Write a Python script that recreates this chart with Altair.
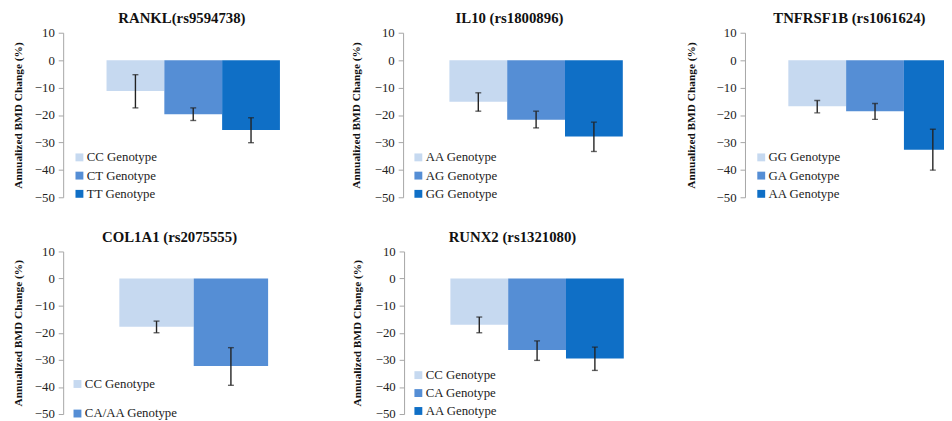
import altair as alt
import pandas as pd

COLORS = ["#C6D9F0", "#558ED5", "#0F6FC6"]

titles = ["RANKL(rs9594738)", "IL10 (rs1800896)", "TNFRSF1B (rs1061624)",
          "COL1A1 (rs2075555)", "RUNX2 (rs1321080)"]

rankl_geno = ["CC Genotype", "CT Genotype", "TT Genotype"]
rankl_mean = [-11.2, -19.7, -25.5]
rankl_hi = [-5.3, -17.4, -21.0]
rankl_lo = [-17.4, -22.0, -30.1]

il10_geno = ["AA Genotype", "AG Genotype", "GG Genotype"]
il10_mean = [-15.2, -21.7, -27.8]
il10_hi = [-11.9, -18.6, -22.6]
il10_lo = [-18.6, -24.7, -33.3]

tnf_geno = ["GG Genotype", "GA Genotype", "AA Genotype"]
tnf_mean = [-16.8, -18.6, -32.7]
tnf_hi = [-14.7, -15.8, -25.2]
tnf_lo = [-19.2, -21.6, -40.1]

col_geno = ["CC Genotype", "CA/AA Genotype"]
col_mean = [-17.8, -32.3]
col_hi = [-15.7, -25.5]
col_lo = [-20.0, -39.4]

runx_geno = ["CC Genotype", "CA Genotype", "AA Genotype"]
runx_mean = [-17.0, -26.4, -29.5]
runx_hi = [-14.2, -23.0, -25.3]
runx_lo = [-20.0, -30.2, -33.9]

y_ticks = [10, 0, -10, -20, -30, -40, -50]
y_title = "Annualized BMD Change (%)"

SERIF = "Liberation Serif"


def panel(title, cats, mean, hi, lo, width, height, xrange, title_dx,
          title_pad, leg_x, leg_y, leg_rowpad, clip=False):
    df = pd.DataFrame({"g": cats, "m": mean, "hi": hi, "lo": lo})
    base = alt.Chart(df)
    x = alt.X("g:N", sort=cats, axis=None,
              scale=alt.Scale(domain=cats, range=xrange,
                              paddingInner=0, paddingOuter=0))
    yscale = alt.Scale(domain=[-50, 10], nice=False, zero=False)
    yaxis = alt.Axis(values=y_ticks, grid=False, domainColor="#A6A6A6",
                     tickColor="#A6A6A6", tickSize=5, labelPadding=4,
                     labelFont=SERIF, labelFontSize=13, labelColor="#222222",
                     title=y_title, titleFont=SERIF, titleFontSize=11.5,
                     titleFontWeight="bold", titleColor="#111111",
                     titlePadding=title_pad)
    bars = base.mark_bar(clip=clip).encode(
        x=x,
        y=alt.Y("m:Q", scale=yscale, axis=yaxis),
        y2=alt.datum(0),
        color=alt.Color("g:N", sort=cats,
                        scale=alt.Scale(domain=cats, range=COLORS[:len(cats)]),
                        legend=alt.Legend(title=None, orient="none",
                                          legendX=leg_x, legendY=leg_y,
                                          symbolType="square", symbolSize=64,
                                          symbolStrokeWidth=0,
                                          labelFont=SERIF, labelFontSize=13,
                                          labelColor="#222222", labelOffset=1,
                                          rowPadding=leg_rowpad, padding=0)),
    )
    rules = base.mark_rule(color="#222222", strokeWidth=1.4, clip=clip).encode(
        x=x, y=alt.Y("lo:Q", scale=yscale, axis=yaxis), y2="hi:Q")
    cap_lo = base.mark_tick(color="#222222", size=6, thickness=1.4, clip=clip).encode(
        x=x, y=alt.Y("lo:Q", scale=yscale, axis=yaxis))
    cap_hi = base.mark_tick(color="#222222", size=6, thickness=1.4, clip=clip).encode(
        x=x, y=alt.Y("hi:Q", scale=yscale, axis=yaxis))
    return alt.layer(bars, rules, cap_lo, cap_hi).properties(
        width=width, height=height,
        title=alt.TitleParams(title, font=SERIF, fontSize=15, fontWeight="bold",
                              color="#111111", offset=1, dx=title_dx),
    )


p1 = panel(titles[0], rankl_geno, rankl_mean, rankl_hi, rankl_lo, 271, 167,
           [44, 220], -15, 11.2, 10, 120, 4.5)
p2 = panel(titles[1], il10_geno, il10_mean, il10_hi, il10_lo, 266, 167,
           [47, 223], -25, 12.7, 9, 120, 4.5)
p3 = panel(titles[2], tnf_geno, tnf_mean, tnf_hi, tnf_lo, 202, 167,
           [44, 220], 5, 20.2, 10, 120, 4.5, clip=True)
p4 = panel(titles[3], col_geno, col_mean, col_hi, col_lo, 272, 165,
           [57, 208], -28, 11.2, 8, 128, 16)
p5 = panel(titles[4], runx_geno, runx_mean, runx_hi, runx_lo, 270, 165,
           [47, 223], -25, 12.7, 8, 119, 4.2)

row1 = alt.hconcat(p1, p2, p3, spacing=20).resolve_scale(color="independent", x="independent")
row2 = alt.hconcat(p4, p5, spacing=20).resolve_scale(color="independent", x="independent")

chart = alt.vconcat(row1, row2, spacing=26).resolve_scale(
    color="independent", x="independent"
).properties(
    padding={"left": 4, "top": 0, "right": 0, "bottom": 0}
).configure(
    background="white", font=SERIF, view=alt.ViewConfig(stroke=None),
    axis=alt.AxisConfig(labelFont=SERIF, titleFont=SERIF),
    legend=alt.LegendConfig(labelFont=SERIF),
)

chart.save("out.html", embed_options={"renderer": "svg", "actions": False})
